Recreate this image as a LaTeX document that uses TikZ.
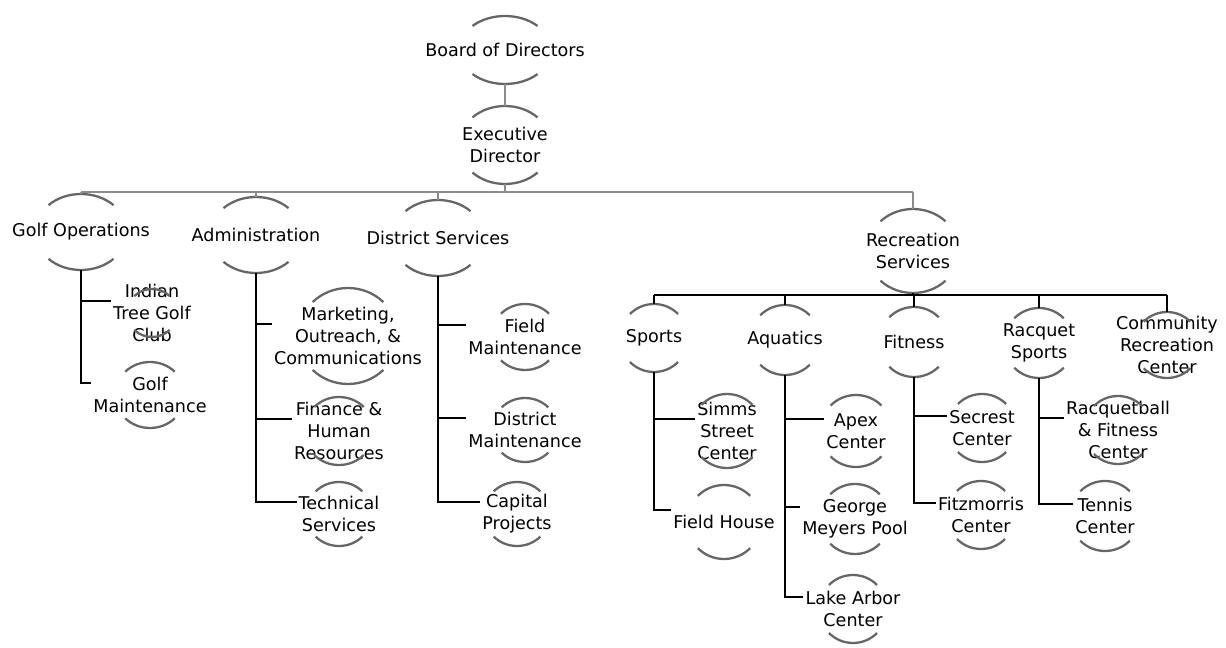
\documentclass[tikz,border=0pt]{standalone}
\usepackage{fontspec}
\setmainfont{DejaVu Sans}
\usetikzlibrary{calc}

\tikzset{
    unit/.style={align=center, inner sep=1pt, font=\fontsize{10}{12.5}\selectfont},
    link/.style={line width=1.6pt, black},
    bus/.style={line width=1pt, black!45},
    rim/.style={line width=1.3pt, black!60},
}

\begin{document}
\begin{tikzpicture}[x=0.02cm, y=-0.02cm]
    \useasboundingbox (0,0) rectangle (1226,648);

    % Top of the chart
    \node[unit] (board) at (505,50) {Board of Directors};
    \node[unit] (exec) at (505,145) {Executive\\Director};

    % Divisions
    \node[unit] (golf) at (81,232) {Golf Operations};
    \node[unit] (admin) at (256,235) {Administration};
    \node[unit] (district) at (438,238) {District Services};
    \node[unit] (rec) at (913,251) {Recreation\\Services};

    % Golf Operations
    \node[unit] (indian) at (152,313) {Indian\\Tree Golf\\Club};
    \node[unit] (golfmaint) at (150,395) {Golf\\Maintenance};

    % Administration
    \node[unit] (marketing) at (348,336) {Marketing,\\Outreach, \&\\Communications};
    \node[unit] (finance) at (339,431) {Finance \&\\Human\\Resources};
    \node[unit] (technical) at (339,514) {Technical\\Services};

    % District Services
    \node[unit] (fieldmaint) at (525,337) {Field\\Maintenance};
    \node[unit] (distmaint) at (525,430) {District\\Maintenance};
    \node[unit] (capital) at (517,514) {Capital\\Projects};

    % Recreation Services
    \node[unit] (sports) at (654,338) {Sports};
    \node[unit] (aquatics) at (785,340) {Aquatics};
    \node[unit] (fitness) at (914,342) {Fitness};
    \node[unit] (racquet) at (1039,343) {Racquet\\Sports};
    \node[unit] (community) at (1167,345) {Community\\Recreation\\Center};

    \node[unit] (simms) at (727,431) {Simms\\Street\\Center};
    \node[unit] (fieldhouse) at (724,522) {Field House};
    \node[unit] (apex) at (856,431) {Apex\\Center};
    \node[unit] (george) at (855,519) {George\\Meyers Pool};
    \node[unit] (lakearbor) at (853,609) {Lake Arbor\\Center};
    \node[unit] (secrest) at (982,428) {Secrest\\Center};
    \node[unit] (fitzmorris) at (981,515) {Fitzmorris\\Center};
    \node[unit] (racquetball) at (1118,430) {Racquetball\\\& Fitness\\Center};
    \node[unit] (tennis) at (1105,516) {Tennis\\Center};

    % Arcs above and below every unit
    \foreach \n/\a/\b in {board/9.2mm/6.8mm, exec/9.2mm/7.8mm, golf/9.2mm/7.6mm,
                          admin/9.2mm/7.6mm, district/9.2mm/7.6mm, rec/9.2mm/8.4mm,
                          indian/5mm/4.8mm, golfmaint/7mm/6.6mm, marketing/10mm/9.6mm,
                          finance/7mm/6.8mm, technical/6.6mm/6.4mm, fieldmaint/6.8mm/6.6mm,
                          distmaint/6.6mm/6.4mm, capital/6.6mm/6.4mm, sports/6.8mm/6.8mm,
                          aquatics/7mm/7mm, fitness/7mm/7mm, racquet/7mm/7mm,
                          community/6.6mm/6.6mm, simms/7.2mm/7.4mm, fieldhouse/7.4mm/7.4mm,
                          apex/7.2mm/7.2mm, george/7mm/7mm, lakearbor/6.8mm/6.8mm,
                          secrest/6.8mm/6.8mm, fitzmorris/6.8mm/6.8mm,
                          racquetball/6.8mm/6.8mm, tennis/7mm/7mm} {
        \draw[rim] ($(\n)+(45:{\a} and {\b})$) arc[start angle=45, end angle=135, x radius=\a, y radius=\b];
        \draw[rim] ($(\n)+(225:{\a} and {\b})$) arc[start angle=225, end angle=315, x radius=\a, y radius=\b];
        \coordinate (\n-top) at ($(\n)+(0,0)+(90:{\a} and {\b})$);
        \coordinate (\n-bot) at ($(\n)+(270:{\a} and {\b})$);
    }

    % Board down to the divisions
    \coordinate (busl) at (0,192);
    \draw[bus] (board-bot) -- (exec-top);
    \draw[bus] (exec-bot) -- (exec-bot |- busl);
    \draw[bus] (golf-top |- busl) -- (rec-top |- busl);
    \foreach \n in {golf,admin,district,rec}
        \draw[bus] (\n-top |- busl) -- (\n-top);

    % Recreation Services bar
    \coordinate (recbus) at (0,295);
    \draw[link] (rec-bot) -- (rec-bot |- recbus);
    \draw[link] (sports-top |- recbus) -- (community-top |- recbus);
    \foreach \n in {sports,aquatics,fitness,racquet,community}
        \draw[link] (\n-top |- recbus) -- (\n-top);

    % Trunks and branches
    \draw[link] (golf-bot) |- ([yshift=2.4mm]indian.west);
    \draw[link] (golf-bot) |- ([yshift=2.4mm]golfmaint.west);

    \draw[link] (admin-bot) |- ([yshift=2.4mm]marketing.west);
    \draw[link] (admin-bot) |- ([yshift=2.4mm]finance.west);
    \draw[link] (admin-bot) |- ([yshift=2.4mm]technical.west);

    \draw[link] (district-bot) |- ([yshift=2.4mm]fieldmaint.west);
    \draw[link] (district-bot) |- ([yshift=2.4mm]distmaint.west);
    \draw[link] (district-bot) |- ([yshift=2.4mm]capital.west);

    \draw[link] (sports-bot) |- ([yshift=2.4mm]simms.west);
    \draw[link] (sports-bot) |- ([yshift=2.4mm]fieldhouse.west);

    \draw[link] (aquatics-bot) |- ([yshift=2.4mm]apex.west);
    \draw[link] (aquatics-bot) |- ([yshift=2.4mm]george.west);
    \draw[link] (aquatics-bot) |- ([yshift=2.4mm]lakearbor.west);

    \draw[link] (fitness-bot) |- ([yshift=2.4mm]secrest.west);
    \draw[link] (fitness-bot) |- ([yshift=2.4mm]fitzmorris.west);

    \draw[link] (racquet-bot) |- ([yshift=2.4mm]racquetball.west);
    \draw[link] (racquet-bot) |- ([yshift=2.4mm]tennis.west);
\end{tikzpicture}
\end{document}
